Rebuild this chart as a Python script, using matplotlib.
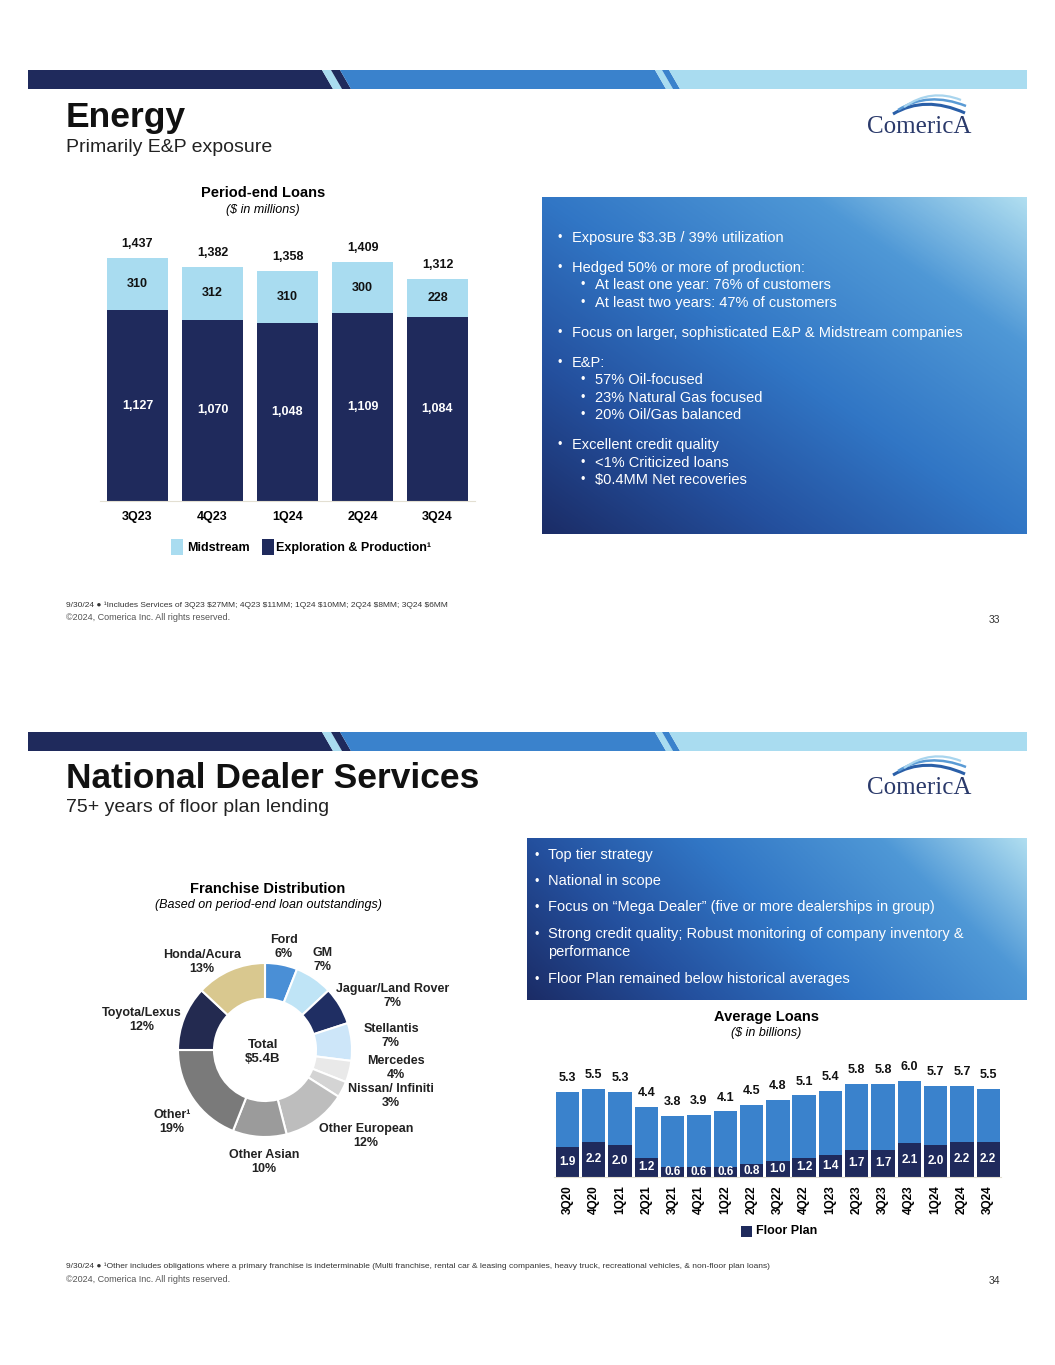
import numpy as np
import matplotlib.pyplot as plt
from matplotlib.patches import Polygon, Rectangle, PathPatch
from matplotlib.path import Path
from matplotlib.colors import LinearSegmentedColormap

plt.rcParams['font.family'] = ['Liberation Sans', 'DejaVu Sans']

W, H = 1055, 1365

# ---- data: Energy, period-end loans ($MM) ----
energy_quarters = ['3Q23', '4Q23', '1Q24', '2Q24', '3Q24']
midstream = [310, 312, 310, 300, 228]
exploration = [1127, 1070, 1048, 1109, 1084]
energy_totals = [1437, 1382, 1358, 1409, 1312]

# ---- data: National Dealer Services, franchise distribution (%) ----
franchises = ['Ford', 'GM', 'Jaguar/Land Rover', 'Stellantis', 'Mercedes',
              'Nissan/ Infiniti', 'Other European', 'Other Asian', 'Other¹',
              'Toyota/Lexus', 'Honda/Acura']
franchise_share = [6, 7, 7, 7, 4, 3, 12, 10, 19, 12, 13]

# ---- data: average loans ($B) ----
nds_quarters = ['3Q20', '4Q20', '1Q21', '2Q21', '3Q21', '4Q21', '1Q22', '2Q22', '3Q22',
                '4Q22', '1Q23', '2Q23', '3Q23', '4Q23', '1Q24', '2Q24', '3Q24']
avg_loans = [5.3, 5.5, 5.3, 4.4, 3.8, 3.9, 4.1, 4.5, 4.8, 5.1, 5.4, 5.8, 5.8, 6.0, 5.7, 5.7, 5.5]
floor_plan = [1.9, 2.2, 2.0, 1.2, 0.6, 0.6, 0.6, 0.8, 1.0, 1.2, 1.4, 1.7, 1.7, 2.1, 2.0, 2.2, 2.2]

energy_bullets = [
    (0, 'Exposure \\$3.3B / 39% utilization'),
    (0, 'Hedged 50% or more of production:'),
    (1, 'At least one year: 76% of customers'),
    (1, 'At least two years: 47% of customers'),
    (0, 'Focus on larger, sophisticated E&P & Midstream companies'),
    (0, 'E&P:'),
    (1, '57% Oil-focused'),
    (1, '23% Natural Gas focused'),
    (1, '20% Oil/Gas balanced'),
    (0, 'Excellent credit quality'),
    (1, '<1% Criticized loans'),
    (1, '\\$0.4MM Net recoveries'),
]
energy_bullet_y = [238, 268, 285, 303, 333, 363, 380, 398, 415, 445, 463, 480]

nds_bullets = [
    'Top tier strategy',
    'National in scope',
    'Focus on \u201cMega Dealer\u201d (five or more dealerships in group)',
    'Strong credit quality; Robust monitoring of company inventory &\nperformance',
    'Floor Plan remained below historical averages',
]
nds_bullet_y = [856, 882, 908, 935, 980]

NAVY = '#1f2a5c'
MID = '#3a82cc'
LIGHT = '#a9dcf0'
donut_colors = ['#4a8fd6', '#bfe4f6', '#1f2e63', '#cde6f9', '#e9e9e9', '#d4d4d4',
                '#bdbdbd', '#9b9b9b', '#7a7a7a', '#232a50', '#d9c88f']
# label offsets from donut centre, in units of 100 px
donut_label_xy = [(0.19, 1.03), (0.58, 0.90), (1.28, 0.54), (1.26, 0.14), (1.31, -0.18),
                  (1.26, -0.46), (1.01, -0.86), (-0.01, -1.12), (-0.93, -0.72),
                  (-1.23, 0.30), (-0.63, 0.88)]

fig = plt.figure(figsize=(W / 100, H / 100), dpi=100)


def px_axes(x0, y0, x1, y1, z=1):
    return fig.add_axes([x0 / W, 1 - y1 / H, (x1 - x0) / W, (y1 - y0) / H], zorder=z)


box_cmap = LinearSegmentedColormap.from_list(
    'box', [(0, '#1b2c66'), (0.25, '#24509e'), (0.5, '#3176c5'), (0.78, '#4f98d6'),
            (1, '#b0def0')])


def gradient_box(x0, y0, x1, y1, wx, wy):
    ax = px_axes(x0, y0, x1, y1, z=1)
    gx, gy = np.meshgrid(np.linspace(0, 1, 300), np.linspace(1, 0, 300))
    ax.imshow(wx * gx + wy * gy, cmap=box_cmap, vmin=0, vmax=1,
              extent=[0, 1, 0, 1], aspect='auto', interpolation='bilinear')
    ax.axis('off')


ov = px_axes(0, 0, W, H, z=10)
ov.set_xlim(0, W)
ov.set_ylim(H, 0)
ov.axis('off')


def banner(y0, y1):
    s = 11
    segs = [(28, 322, NAVY), (322, 331, LIGHT), (331, 340, NAVY), (340, 655, MID),
            (655, 662, LIGHT), (662, 669, MID), (669, 1027, LIGHT)]
    for i, (xa, xb, c) in enumerate(segs):
        xa_b = xa if i == 0 else xa + s
        xb_b = xb if i == len(segs) - 1 else xb + s
        ov.add_patch(Polygon([(xa, y0), (xb, y0), (xb_b, y1), (xa_b, y1)],
                             closed=True, color=c, lw=0))


def logo(x, y):
    ov.text(x, y, 'ComericA', family=['Liberation Serif', 'DejaVu Serif'],
            fontsize=18, color='#2b3a6b', ha='left', va='baseline')
    for (p0, p1, p2), c, lw in [(((893, y - 19), (925, y - 38), (965, y - 20)), '#2a5fa8', 2.2),
                                (((898, y - 23), (928, y - 42), (966, y - 27)), '#5a9bd5', 1.8),
                                (((904, y - 26), (931, y - 45), (961, y - 33)), '#a9d5ee', 1.6)]:
        ov.add_patch(PathPatch(Path([p0, p1, p2], [Path.MOVETO, Path.CURVE3, Path.CURVE3]),
                               fill=False, edgecolor=c, lw=lw))


def header(y_banner, title, subtitle, y_title, y_sub):
    banner(y_banner, y_banner + 19)
    ov.text(66, y_title, title, fontsize=25.5, fontweight='bold', color='#111111',
            ha='left', va='center')
    ov.text(66, y_sub, subtitle, fontsize=14, color='#222222', ha='left', va='center')
    logo(867, y_title + 15)


def footer(y, note, page):
    ov.text(66, y, note, fontsize=6, color='#333333', ha='left', va='center')
    ov.text(66, y + 13, '\u00a92024, Comerica Inc. All rights reserved.', fontsize=6.5,
            color='#555555', ha='left', va='center')
    ov.text(1000, y + 15, page, fontsize=7.5, color='#333333', ha='right', va='center')


# ================= Slide 33: Energy =================
header(70, 'Energy', 'Primarily E&P exposure', 118, 147)

ov.text(263, 193, 'Period-end Loans', fontsize=10.5, fontweight='bold', ha='center', va='center')
ov.text(263, 210, '(\\$ in millions)', fontsize=9, style='italic', ha='center', va='center')

ax1 = px_axes(100, 230, 475, 501, z=2)
x1 = np.arange(len(energy_quarters))
ax1.bar(x1, exploration, width=0.81, color=NAVY)
ax1.bar(x1, midstream, bottom=exploration, width=0.81, color=LIGHT)
for i in range(len(x1)):
    ax1.text(i, exploration[i] / 2, f'{exploration[i]:,}', color='white', fontsize=9,
             fontweight='bold', ha='center', va='center')
    ax1.text(i, exploration[i] + midstream[i] / 2, f'{midstream[i]:,}', color='#111111',
             fontsize=9, fontweight='bold', ha='center', va='center')
    ax1.annotate(f'{energy_totals[i]:,}', (i, energy_totals[i]), xytext=(0, 10),
                 textcoords='offset points', fontsize=9, fontweight='bold',
                 ha='center', va='center', color='#111111')
ax1.set_xlim(-0.5, 4.5)
ax1.set_ylim(0, 1600)
ax1.set_xticks(x1, energy_quarters, fontsize=9, fontweight='bold')
ax1.tick_params(axis='x', length=0, pad=7)
ax1.set_yticks([])
for sp in ['top', 'left', 'right']:
    ax1.spines[sp].set_visible(False)
ax1.spines['bottom'].set_color('#e3dfd2')
ax1.spines['bottom'].set_linewidth(0.8)
ax1.patch.set_visible(False)

ov.add_patch(Rectangle((171, 539), 12, 16, color=LIGHT, lw=0))
ov.text(187, 548, 'Midstream', fontsize=9, fontweight='bold', ha='left', va='center')
ov.add_patch(Rectangle((262, 539), 12, 16, color=NAVY, lw=0))
ov.text(276, 548, 'Exploration & Production\u00b9', fontsize=9, fontweight='bold',
        ha='left', va='center')

gradient_box(542, 197, 1027, 534, 0.5, 0.5)
for (lvl, txt), y in zip(energy_bullets, energy_bullet_y):
    bx = 560 if lvl == 0 else 583
    tx = 572 if lvl == 0 else 595
    ov.text(bx, y, '\u2022', color='white', fontsize=9, ha='center', va='center')
    ov.text(tx, y, txt, color='white', fontsize=10.5, ha='left', va='center')

footer(605, '9/30/24 \u25cf \u00b9Includes Services of 3Q23 \\$27MM; 4Q23 \\$11MM; 1Q24 \\$10MM; '
            '2Q24 \\$8MM; 3Q24 \\$6MM', '33')

# ================= Slide 34: National Dealer Services =================
header(732, 'National Dealer Services', '75+ years of floor plan lending', 779, 808)

gradient_box(527, 838, 1027, 1000, 0.75, 0.25)
for txt, y in zip(nds_bullets, nds_bullet_y):
    ov.text(537, y, '\u2022', color='white', fontsize=9, ha='center', va='center')
    ov.text(548, y - 8, txt, color='white', fontsize=10.5, ha='left', va='top',
            linespacing=1.35)

ov.text(268, 889, 'Franchise Distribution', fontsize=10.5, fontweight='bold',
        ha='center', va='center')
ov.text(268, 905, '(Based on period-end loan outstandings)', fontsize=9, style='italic',
        ha='center', va='center')

ax3 = px_axes(265 - 150, 1050 - 150, 265 + 150, 1050 + 150, z=2)
ax3.pie(franchise_share, radius=0.87, startangle=90, counterclock=False, colors=donut_colors,
        wedgeprops=dict(width=0.36, edgecolor='white', linewidth=1.5))
ax3.set_xlim(-1.5, 1.5)
ax3.set_ylim(-1.5, 1.5)
ax3.axis('off')
for name, share, (dx, dy) in zip(franchises, franchise_share, donut_label_xy):
    ax3.text(dx, dy, f'{name}\n{share}%', fontsize=9, fontweight='bold', color='#222222',
             ha='center', va='center', linespacing=1.15, clip_on=False)
ax3.text(-0.02, -0.02, 'Total\n\\$5.4B', fontsize=9.5, fontweight='bold', color='#222222',
         ha='center', va='center', linespacing=1.2)

ov.text(766, 1017, 'Average Loans', fontsize=10.5, fontweight='bold', ha='center', va='center')
ov.text(766, 1033, '(\\$ in billions)', fontsize=9, style='italic', ha='center', va='center')

ax2 = px_axes(554.3, 1065, 1001.4, 1177, z=2)
x2 = np.arange(len(nds_quarters))
ax2.bar(x2, avg_loans, width=0.886, color=MID)
ax2.bar(x2, floor_plan, width=0.886, color=NAVY)
for i in range(len(x2)):
    ax2.annotate(f'{avg_loans[i]:.1f}', (i, avg_loans[i]), xytext=(0, 10),
                 textcoords='offset points', fontsize=9, fontweight='bold',
                 ha='center', va='center', color='#111111')
    ax2.text(i, floor_plan[i] / 2, f'{floor_plan[i]:.1f}', color='white', fontsize=8.5,
             fontweight='bold', ha='center', va='center')
ax2.set_xlim(-0.5, len(x2) - 0.5)
ax2.set_ylim(0, 7)
ax2.set_xticks(x2, nds_quarters, fontsize=8.5, fontweight='bold', rotation=90)
ax2.tick_params(axis='x', length=0, pad=6)
ax2.set_yticks([])
for sp in ['top', 'left', 'right']:
    ax2.spines[sp].set_visible(False)
ax2.spines['bottom'].set_color('#e3dfd2')
ax2.spines['bottom'].set_linewidth(0.8)
ax2.patch.set_visible(False)

ov.add_patch(Rectangle((741, 1226), 11, 11, color=NAVY, lw=0))
ov.text(756, 1231.5, 'Floor Plan', fontsize=9, fontweight='bold', ha='left', va='center')

footer(1266, '9/30/24 \u25cf \u00b9Other includes obligations where a primary franchise is '
             'indeterminable (Multi franchise, rental car & leasing companies, heavy truck, '
             'recreational vehicles, & non-floor plan loans)', '34')

fig.savefig('out.png', dpi=100, facecolor='white')
